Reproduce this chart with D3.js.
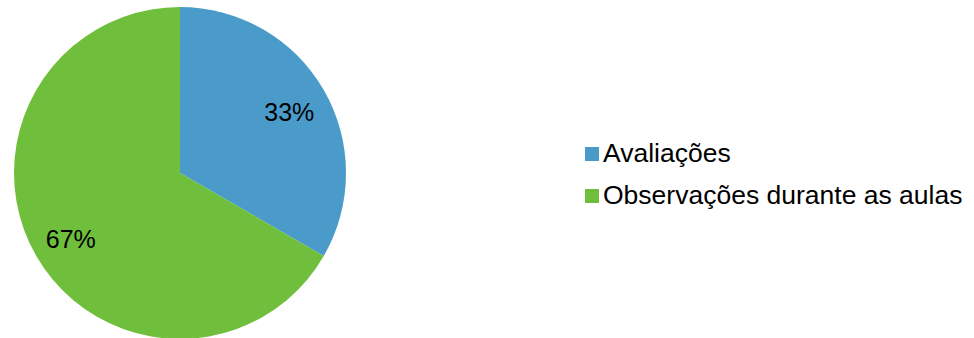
<!DOCTYPE html>
<html lang="pt">
<head>
  <meta charset="UTF-8" />
  <title>Avaliações vs Observações</title>
  <script src="https://d3js.org/d3.v7.min.js"></script>
  <style>
    body { margin: 0; background: #fff; font-family: "Liberation Sans", Arial, sans-serif; }
    svg { display: block; }
  </style>
</head>
<body>
<svg id="chart" width="974" height="338"></svg>
<script>
const categories = ["Avaliações", "Observações durante as aulas"];
const values = [33.33, 66.67];
const labels = ["33%", "67%"];
const colors = ["#4A9BCA", "#70BF3C"];

const svg = d3.select("#chart");
const cx = 180, cy = 173, radius = 166;

const g = svg.append("g").attr("transform", `translate(${cx},${cy})`);

const pie = d3.pie().sort(null).value(d => d);
const arcs = pie(values);

const arc = d3.arc().innerRadius(0).outerRadius(radius);
const labelArc = d3.arc().innerRadius(radius * 0.76).outerRadius(radius * 0.76);

g.selectAll("path")
  .data(arcs)
  .enter().append("path")
  .attr("d", arc)
  .attr("fill", (d, i) => colors[i]);

g.selectAll("text")
  .data(arcs)
  .enter().append("text")
  .attr("transform", d => `translate(${labelArc.centroid(d)})`)
  .attr("text-anchor", "middle")
  .attr("dy", "0.46em")
  .attr("font-size", 25)
  .attr("fill", "#000")
  .text((d, i) => labels[i]);

// legend
const legend = svg.append("g").attr("transform", "translate(585,147)");
const item = legend.selectAll("g")
  .data(categories)
  .enter().append("g")
  .attr("transform", (d, i) => `translate(0,${i * 42})`);

item.append("rect")
  .attr("width", 14).attr("height", 14)
  .attr("fill", (d, i) => colors[i]);

item.append("text")
  .attr("x", 18).attr("y", 15)
  .attr("font-size", 26.5)
  .attr("fill", "#000")
  .text(d => d);
</script>
</body>
</html>
